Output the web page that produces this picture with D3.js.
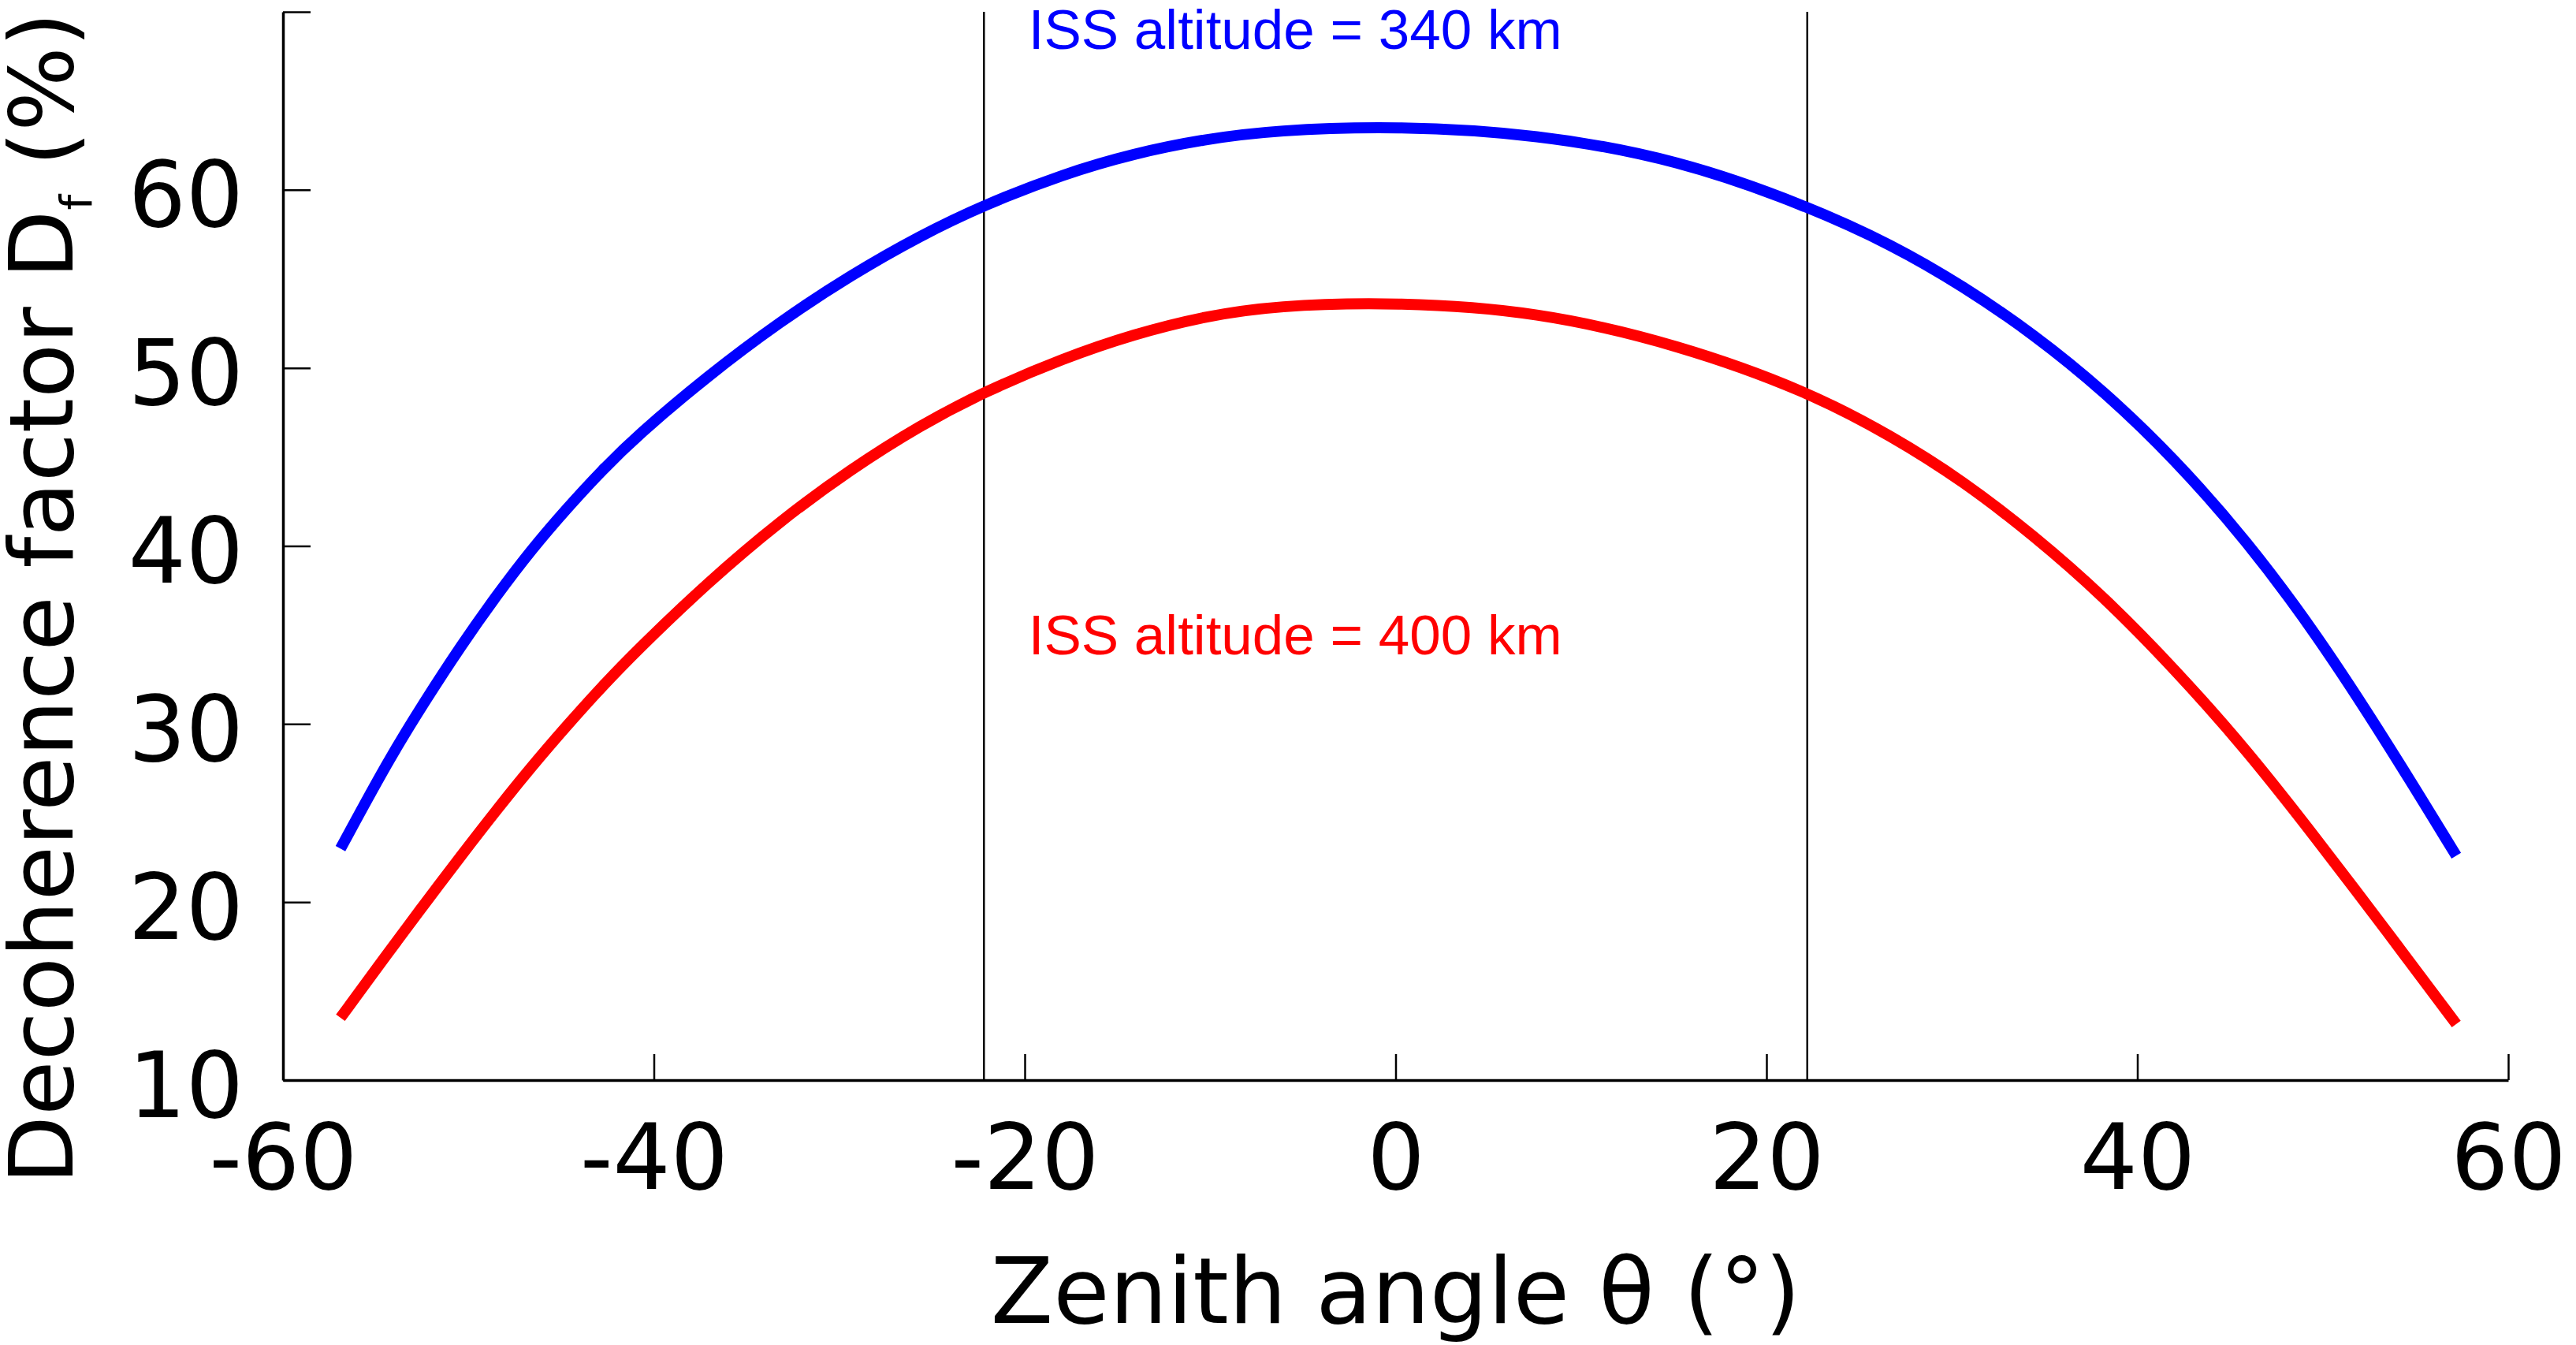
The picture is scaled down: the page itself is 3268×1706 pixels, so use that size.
<!DOCTYPE html>
<html>
<head>
<meta charset="utf-8">
<script src="https://cdn.jsdelivr.net/npm/d3@7"></script>
<style>
	body { margin: 0; background: #fff; }
	.axis path, .axis line { stroke: #000; }
	.axis text { font-family: "DejaVu Sans", sans-serif; font-size: 115px; fill: #000; }
	.label { font-family: "DejaVu Sans", sans-serif; fill: #000; }
	.note { font-family: "Liberation Sans", Arial, sans-serif; font-size: 71px; }
</style>
</head>
<body>
<div id="chart"></div>
<script>
/* DATA */

var angles = [-56.9, -54.3, -52.4, -50.4, -48.5, -46.6, -44.7, -42.8, -40.9, -37.1, -33.2, -29.4, -25.6, -22.2, -17.9, -14.1, -10.3, -6.5, 0,
	7.6, 15.3, 22.2, 26.8, 30.6, 34.4, 38.2, 42.0, 45.9, 49.7, 53.5, 57.2];

// ISS altitude = 340 km
var df340 = [23.0, 28.0, 31.2, 34.4, 37.2, 39.8, 42.1, 44.25, 46.2, 49.55, 52.6, 55.2, 57.45, 59.15, 60.9, 62.05, 62.85, 63.35, 63.6,
	63.15, 61.7, 59.1, 56.9, 54.6, 51.9, 48.7, 44.9, 40.3, 35.0, 28.9, 22.6];

// ISS altitude = 400 km
var df400 = [13.5, 17.2, 19.85, 22.6, 25.15, 27.6, 29.9, 32.1, 34.15, 37.95, 41.4, 44.3, 46.8, 48.65, 50.55, 51.9, 52.9, 53.5, 53.7,
	53.2, 51.3, 48.7, 46.15, 43.65, 40.6, 37.15, 33.1, 28.55, 23.5, 18.3, 13.15];

var xTicks = [-60, -40, -20, 0, 20, 40, 60],
	yTicks = [10, 20, 30, 40, 50, 60, 70];

var markers = [-22.2, 22.2]; // vertical guide lines

var notes = [
	{text: "ISS altitude = 340 km", x: -19.8, y: 67.9, color: "#0000ff"},
	{text: "ISS altitude = 400 km", x: -19.8, y: 33.9, color: "#ff0000"}
];

/* SVG */

var W = 3268, H = 1706,
	margin = {top: 15, right: 86, bottom: 336, left: 359},
	width = W - margin.left - margin.right,
	height = H - margin.top - margin.bottom;

var svg = d3.select("#chart").append("svg")
	.attr("width", W)
	.attr("height", H);

var g = svg.append("g")
	.attr("transform", "translate(" + margin.left + "," + margin.top + ")");

var x = d3.scaleLinear()
	.domain([-60, 60])
	.range([0, width]);

var y = d3.scaleLinear()
	.domain([10, 70])
	.range([height, 0]);

/* Guide lines */

g.selectAll(".marker")
	.data(markers)
	.enter().append("line")
	.attr("class", "marker")
	.attr("x1", function(d) { return x(d); })
	.attr("x2", function(d) { return x(d); })
	.attr("y1", y(70))
	.attr("y2", y(10))
	.attr("stroke", "#000")
	.attr("stroke-width", 2.5);

/* Axes */

var xAxis = g.append("g")
	.attr("class", "axis axis--x")
	.attr("transform", "translate(0," + height + ")")
	.call(d3.axisBottom(x).tickValues(xTicks).tickSizeInner(-33).tickSizeOuter(0).tickPadding(56)
		.tickFormat(function(d) { return String(d); }));

var yAxis = g.append("g")
	.attr("class", "axis axis--y")
	.call(d3.axisLeft(y).tickValues(yTicks).tickSizeInner(-35).tickSizeOuter(0).tickPadding(50)
		.tickFormat(function(d) { return d === 70 ? "" : String(d); }));

g.selectAll(".axis .domain").attr("stroke-width", 3.5);
g.selectAll(".axis .tick line").attr("stroke-width", 2.5);
yAxis.selectAll("text").attr("dy", "0.4em");
xAxis.selectAll("text").attr("dy", "0.71em");

/* Curves */

var line = d3.line()
	.x(function(d, i) { return x(angles[i]); })
	.y(function(d) { return y(d); })
	.curve(d3.curveBasis);

g.append("path")
	.datum(df340)
	.attr("fill", "none")
	.attr("stroke", "#0000ff")
	.attr("stroke-width", 14)
	.attr("d", line);

g.append("path")
	.datum(df400)
	.attr("fill", "none")
	.attr("stroke", "#ff0000")
	.attr("stroke-width", 14)
	.attr("d", line);

/* Notes */

g.selectAll(".note")
	.data(notes)
	.enter().append("text")
	.attr("class", "note")
	.attr("x", function(d) { return x(d.x); })
	.attr("y", function(d) { return y(d.y); })
	.attr("fill", function(d) { return d.color; })
	.text(function(d) { return d.text; });

/* Axis titles */

svg.append("text")
	.attr("class", "label")
	.attr("font-size", "116px")
	.attr("x", margin.left + width / 2)
	.attr("y", 1678)
	.attr("text-anchor", "middle")
	.text("Zenith angle \u03b8 (\u00b0)");

var ylab = svg.append("text")
	.attr("class", "label")
	.attr("font-size", "113px")
	.attr("transform", "translate(92,1502) rotate(-90)");

ylab.append("tspan").text("Decoherence factor D");
ylab.append("tspan").attr("font-size", "56px").attr("dy", 24).text("f");
ylab.append("tspan").attr("dy", -24).text(" (%)");
</script>
</body>
</html>
